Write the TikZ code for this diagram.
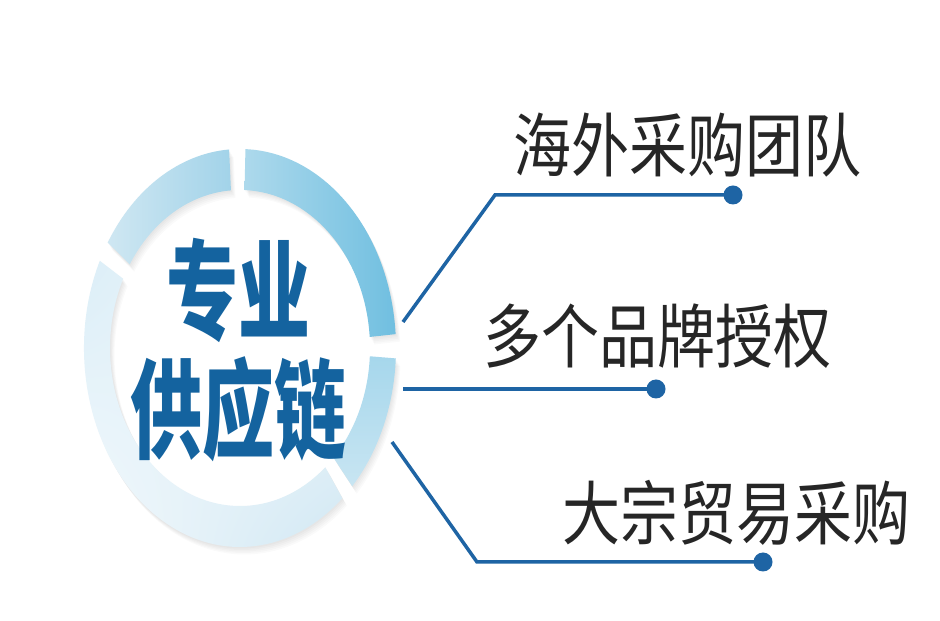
\documentclass[tikz,border=0pt]{standalone}
\usepackage{fontspec}
\newfontfamily\cjk{Noto Sans CJK SC}
\usetikzlibrary{calc,shadings}
\definecolor{lineblue}{HTML}{1E64A4}
\definecolor{headblue}{HTML}{14639F}
\definecolor{txtdark}{HTML}{262626}
\definecolor{segA1}{HTML}{ADD9EC}
\definecolor{segA2}{HTML}{70BFE0}
\definecolor{segB1}{HTML}{CFE7F2}
\definecolor{segB2}{HTML}{A2D3E9}
\definecolor{segC1}{HTML}{D9EDF7}
\definecolor{segC2}{HTML}{F8FBFD}
\definecolor{segC3}{HTML}{CFE7F3}
\definecolor{segD1}{HTML}{A6D7EC}
\definecolor{segD2}{HTML}{C8E5F2}
% ring segment path: #1 start angle, #2 end angle
\newcommand\rsegpath[2]{([shift={(240,273)}]#1:156 and 199) arc[start angle=#1, end angle=#2, x radius=156, y radius=199] -- ([shift={(240,273)}]#2:130 and 158) arc[start angle=#2, end angle=#1, x radius=130, y radius=158] -- cycle}
\newcommand\rsegshadow[2]{%
  \foreach \s in {1,2,3,4,5}{\fill[black,opacity=0.02,shift={(\s*0.9,-\s*1.5)}] \rsegpath{#1}{#2};}}
\tikzset{
  connector/.style={draw=lineblue, line width=3.5pt},
  enddot/.style={circle, fill=lineblue, inner sep=0pt, minimum width=19pt},
  itemtext/.style={text=txtdark, inner sep=0pt, font=\cjk\fontsize{58}{60}\selectfont},
  headtext/.style={text=headblue, inner sep=0pt, font=\cjk\bfseries\fontsize{72}{74}\selectfont},
}
\begin{document}
\begin{tikzpicture}[x=1pt,y=1pt]
\useasboundingbox (0,0) rectangle (940,621);
\fill[white] (0,0) rectangle (940,621);
% shadows
\rsegshadow{4}{88}
\rsegshadow{94}{148}
\rsegshadow{154}{311}
\rsegshadow{316}{357}
% ring segments
\shade[left color=segA1, right color=segA2] \rsegpath{4}{88};
\shade[left color=segB1, right color=segB2] \rsegpath{94}{148};
\shade[upper left=segC1, lower left=segC2, lower right=segC3, upper right=segC2] \rsegpath{154}{311};
\shade[top color=segD1, bottom color=segD2] \rsegpath{316}{357};
% heading
\node[headtext] (h1) at (238,331) {\scalebox{1}[1.5]{专业}};
\node[headtext] (h2) at (238,212) {\scalebox{1}[1.5]{供应链}};
% items
\node[itemtext] (t1) at (687,476) {\scalebox{1}[1.2]{海外采购团队}};
\node[itemtext] (t2) at (657,285) {\scalebox{1}[1.2]{多个品牌授权}};
\node[itemtext] (t3) at (736,108) {\scalebox{1}[1.2]{大宗贸易采购}};
% connectors
\coordinate (s1) at (403,299);
\coordinate (c1) at (495,426);
\node[enddot] (d1) at (733,426) {};
\coordinate (s2) at (403,232);
\node[enddot] (d2) at (656,232) {};
\coordinate (s3) at (392,179);
\coordinate (c3) at (477,59);
\node[enddot] (d3) at (763,59) {};
\draw[connector] (s1) -- (c1) -- (d1.center);
\draw[connector] (s2) -- (d2.center);
\draw[connector] (s3) -- (c3) -- (d3.center);
\end{tikzpicture}
\end{document}
